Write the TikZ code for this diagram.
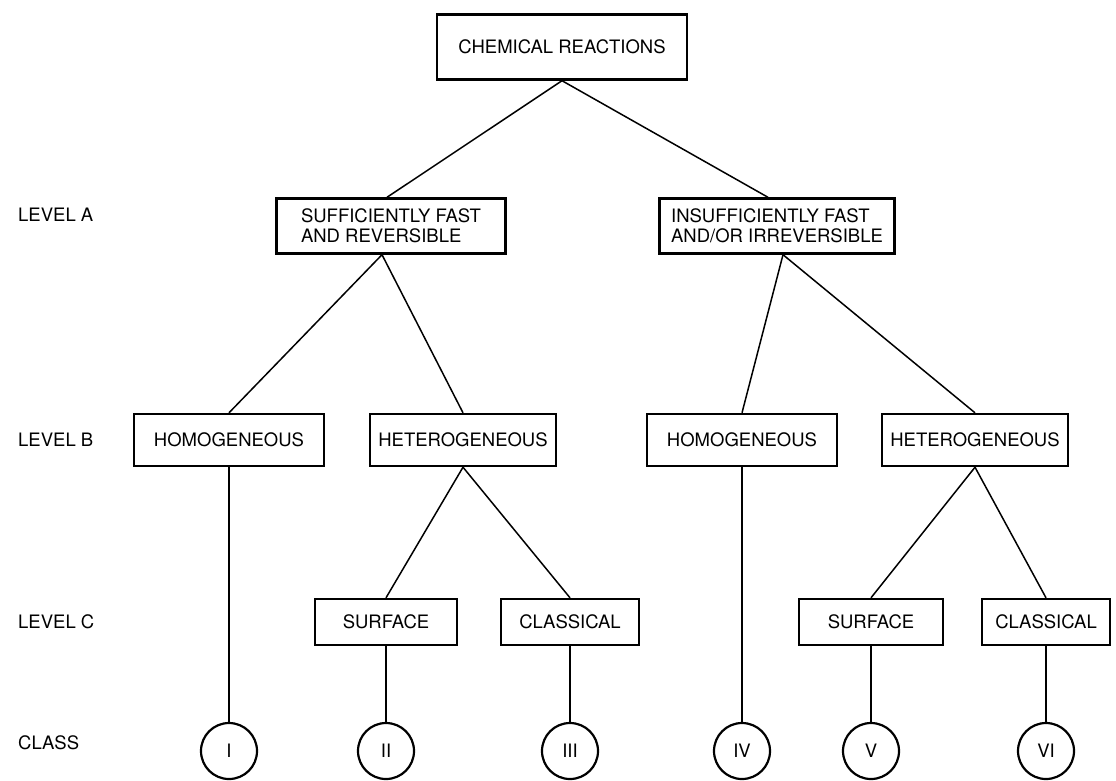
\documentclass[tikz,border=0pt]{standalone}
\usepackage{fontspec}
\setmainfont{TeX Gyre Heros}
\usepackage{tikz}

\tikzset{
  levelbox/.style={draw, line width=2.4pt, minimum height=52pt, inner sep=3pt, font=\fontsize{18.5}{20}\selectfont},
  classcirc/.style={draw, circle, line width=2.2pt, minimum size=56pt, inner sep=0pt, font=\fontsize{18.5}{20}\selectfont},
  levellabel/.style={anchor=west, inner sep=0pt, font=\fontsize{18.5}{20}\selectfont},
  link/.style={line width=1.5pt}
}

\begin{document}
\begin{tikzpicture}[x=1pt, y=-1pt]

    \useasboundingbox (0,0) rectangle (1116,780);

    \node[levelbox, minimum width=250pt, minimum height=65pt] (chem) at (562, 47) {CHEMICAL REACTIONS};

    \node[levelbox, minimum width=229pt, minimum height=55pt, align=left] (sfr) at (391, 226) {SUFFICIENTLY FAST\\AND REVERSIBLE};
    \node[levelbox, minimum width=235pt, minimum height=55pt, align=left] (ifr) at (777, 226) {INSUFFICIENTLY FAST\\AND/OR IRREVERSIBLE};

    \node[levelbox, minimum width=190pt] (homl) at (229, 440) {HOMOGENEOUS};
    \node[levelbox, minimum width=186pt] (hetl) at (463, 440) {HETEROGENEOUS};
    \node[levelbox, minimum width=190pt] (homr) at (742, 440) {HOMOGENEOUS};
    \node[levelbox, minimum width=186pt] (hetr) at (975, 440) {HETEROGENEOUS};

    \node[levelbox, minimum width=142pt, minimum height=46pt] (surl) at (386, 622) {SURFACE};
    \node[levelbox, minimum width=138pt, minimum height=46pt] (clal) at (570, 622) {CLASSICAL};
    \node[levelbox, minimum width=144pt, minimum height=46pt] (surr) at (871, 622) {SURFACE};
    \node[levelbox, minimum width=128pt, minimum height=46pt] (clar) at (1046, 622) {CLASSICAL};

    \node[classcirc] (c1) at (229, 751) {I};
    \node[classcirc] (c2) at (386, 751) {II};
    \node[classcirc] (c3) at (570, 751) {III};
    \node[classcirc] (c4) at (742, 751) {IV};
    \node[classcirc] (c5) at (871, 751) {V};
    \node[classcirc] (c6) at (1046, 751) {VI};

    \node[levellabel] (la) at (18, 215) {LEVEL A};
    \node[levellabel] (lb) at (18, 440) {LEVEL B};
    \node[levellabel] (lc) at (18, 622) {LEVEL C};
    \node[levellabel] (lcl) at (18, 743) {CLASS};

    \draw[link] (chem.south) -- ([xshift=-4pt]sfr.north);
    \draw[link] (chem.south) -- ([xshift=-9pt]ifr.north);
    \draw[link] ([xshift=-9pt]sfr.south) -- (homl.north);
    \draw[link] ([xshift=-9pt]sfr.south) -- (hetl.north);
    \draw[link] ([xshift=6pt]ifr.south) -- (homr.north);
    \draw[link] ([xshift=6pt]ifr.south) -- (hetr.north);
    \draw[link] (hetl.south) -- (surl.north);
    \draw[link] (hetl.south) -- (clal.north);
    \draw[link] (hetr.south) -- (surr.north);
    \draw[link] (hetr.south) -- (clar.north);
    \draw[link] (homl.south) -- (c1.north);
    \draw[link] (surl.south) -- (c2.north);
    \draw[link] (clal.south) -- (c3.north);
    \draw[link] (homr.south) -- (c4.north);
    \draw[link] (surr.south) -- (c5.north);
    \draw[link] (clar.south) -- (c6.north);

\end{tikzpicture}
\end{document}
